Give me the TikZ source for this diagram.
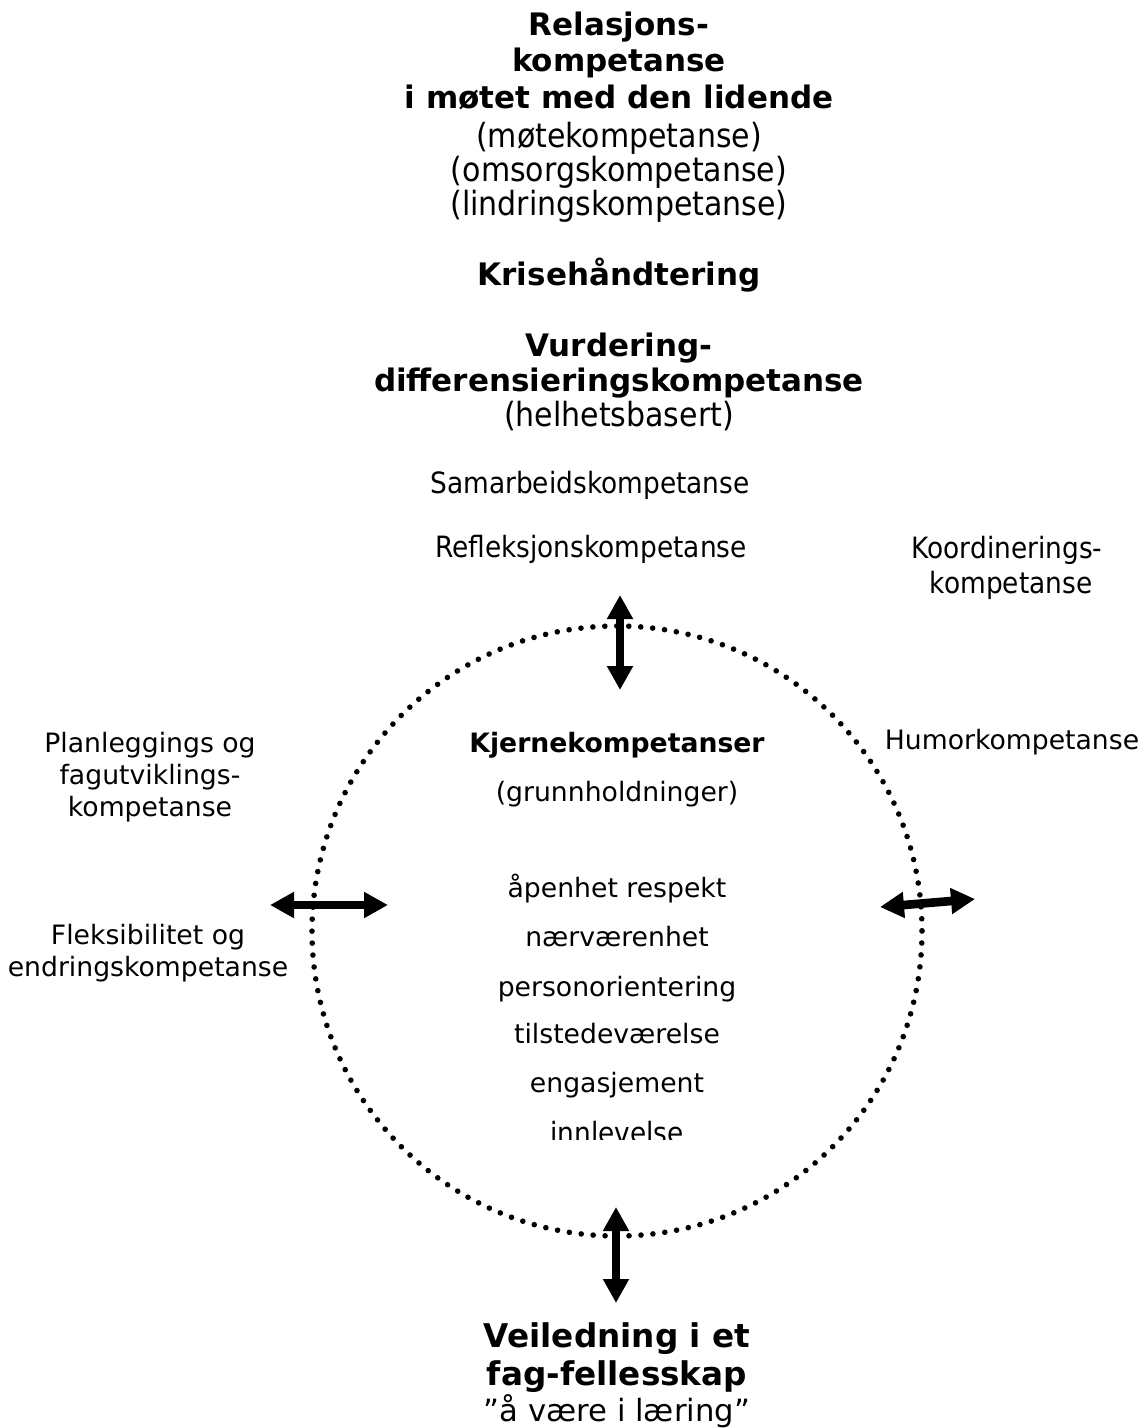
\documentclass[tikz,border=0pt]{standalone}
\usepackage{fontspec}
\setmainfont{DejaVu Sans}
\newfontfamily\narrowfont[FakeStretch=0.9]{DejaVu Sans}
\usetikzlibrary{arrows.meta}
\tikzset{
  txt/.style={inner sep=0pt, anchor=base},
  reg/.style={txt, font=\fontsize{20}{24}\selectfont},
  regbold/.style={txt, font=\fontsize{20}{24}\selectfont\bfseries},
  bigbold/.style={txt, font=\fontsize{23.25}{28}\selectfont\bfseries},
  botbold/.style={txt, font=\fontsize{24.5}{29}\selectfont\bfseries},
  botreg/.style={txt, font=\fontsize{23}{28}\selectfont},
  narrowbig/.style={txt, font=\narrowfont\fontsize{25}{30}\selectfont},
  narrowmid/.style={txt, font=\narrowfont\fontsize{22}{26}\selectfont},
  dblarrow/.style={line width=6.5pt, {Triangle[length=18pt,width=18.5pt]}-{Triangle[length=18pt,width=18.5pt]}},
  dotring/.style={line width=4.2pt, line cap=round, dash pattern=on 0pt off 8.983pt}
}
\begin{document}
\begin{tikzpicture}[x=0.75pt,y=-0.75pt]
\useasboundingbox (0,0) rectangle (1148,1428);
% top block
\node[bigbold] (rel1) at (619,35) {Relasjons-};
\node[bigbold] (rel2) at (619,71) {kompetanse};
\node[bigbold] (rel3) at (619,108) {i møtet med den lidende};
\node[narrowbig] (rel4) at (619,147) {(møtekompetanse)};
\node[narrowbig] (rel5) at (619,181) {(omsorgskompetanse)};
\node[narrowbig] (rel6) at (619,215) {(lindringskompetanse)};
\node[bigbold] (krise) at (619,285) {Krisehåndtering};
\node[bigbold] (vur1) at (619,356) {Vurdering-};
\node[bigbold] (vur2) at (619,391) {differensieringskompetanse};
\node[narrowbig] (vur3) at (619,426) {(helhetsbasert)};
\node[narrowmid] (samarb) at (590,493) {Samarbeidskompetanse};
\node[narrowmid] (reflek) at (591,557) {Refleksjonskompetanse};
\node[narrowmid] (koord1) at (1007,558) {Koordinerings-};
\node[narrowmid] (koord2) at (1011,593) {kompetanse};
% left
\node[reg] (plan1) at (150,752) {Planleggings og};
\node[reg] (plan2) at (150,784) {fagutviklings-};
\node[reg] (plan3) at (150,816) {kompetanse};
\node[reg] (flek1) at (148,944) {Fleksibilitet og};
\node[reg] (flek2) at (148,976) {endringskompetanse};
% right
\node[reg] (humor) at (1012,749) {Humorkompetanse};
% inner
\node[regbold] (kjerne) at (617,752) {Kjernekompetanser};
\node[reg] (grunn) at (617,801) {(grunnholdninger)};
\node[reg] (apen) at (617,897) {åpenhet respekt};
\node[reg] (naer) at (617,946) {nærværenhet};
\node[reg] (pers) at (617,996) {personorientering};
\node[reg] (tilst) at (617,1043) {tilstedeværelse};
\node[reg] (engas) at (617,1092) {engasjement};
\begin{scope}
\clip (450,1100) rectangle (790,1139);
\node[narrowmid] (innlev) at (617,1143) {innlevelse};
\end{scope}
% bottom
\node[botbold] (veil1) at (617,1347) {Veiledning i et};
\node[botbold] (veil2) at (617,1385) {fag-fellesskap};
\node[botreg] (veil3) at (617,1421) {”å være i læring”};
% circle
\coordinate (ctr) at (617,931);
\draw[dotring] (ctr) circle[radius=305];
% arrows
\coordinate (tA) at (620,595);
\coordinate (tB) at (620,690);
\coordinate (bA) at (616,1207);
\coordinate (bB) at (616,1303);
\coordinate (lA) at (270,905);
\coordinate (lB) at (388,905);
\coordinate (rA) at (880,907);
\coordinate (rB) at (975,899);
\draw[dblarrow] (tA) -- (tB);
\draw[dblarrow] (bA) -- (bB);
\draw[dblarrow] (lA) -- (lB);
\draw[dblarrow] (rA) -- (rB);
\end{tikzpicture}
\end{document}
